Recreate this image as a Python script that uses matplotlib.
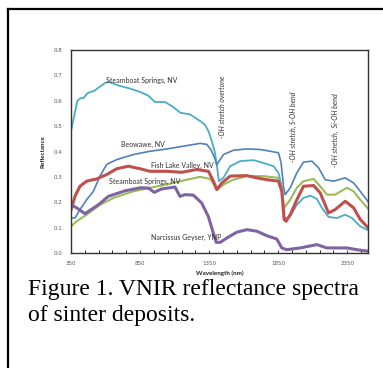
import matplotlib
matplotlib.use('Agg')
import matplotlib.pyplot as plt
from matplotlib.lines import Line2D

# Steamboat Springs, NV (upper, cyan)
wl_ss1 = [350, 396, 420, 440, 470, 520, 596, 620, 693, 765, 850, 910, 958, 1031, 1091, 1140,
          1212, 1285, 1320, 1345, 1367, 1390, 1405, 1420, 1453, 1502, 1574, 1671, 1743, 1816,
          1852, 1876, 1893, 1907, 1937, 1985, 2033, 2082, 2130, 2166, 2214, 2275, 2335, 2383,
          2444, 2500]
r_ss1 = [0.48, 0.60, 0.61, 0.61, 0.63, 0.64, 0.67, 0.675, 0.66, 0.65, 0.635, 0.62, 0.595, 0.595,
         0.575, 0.553, 0.546, 0.52, 0.505, 0.48, 0.445, 0.40, 0.35, 0.283, 0.296, 0.342, 0.362,
         0.366, 0.355, 0.342, 0.316, 0.26, 0.145, 0.134, 0.145, 0.19, 0.217, 0.226, 0.213, 0.178,
         0.142, 0.138, 0.151, 0.138, 0.105, 0.09]

# Beowawe, NV (blue)
wl_beo = [350, 379, 415, 463, 512, 560, 608, 681, 801, 922, 1043, 1164, 1285, 1333, 1362, 1393,
          1405, 1417, 1454, 1526, 1623, 1719, 1792, 1852, 1871, 1888, 1900, 1937, 1985, 2033,
          2094, 2142, 2190, 2250, 2335, 2396, 2444, 2500]
r_beo = [0.138, 0.138, 0.171, 0.21, 0.243, 0.303, 0.349, 0.368, 0.388, 0.401, 0.41, 0.421, 0.432,
         0.428, 0.408, 0.37, 0.346, 0.358, 0.388, 0.405, 0.41, 0.408, 0.401, 0.395, 0.355, 0.263,
         0.23, 0.257, 0.316, 0.358, 0.362, 0.336, 0.289, 0.283, 0.296, 0.276, 0.243, 0.203]

# Fish Lake Valley, NV (red)
wl_flv = [350, 379, 415, 463, 536, 608, 681, 765, 850, 922, 1043, 1152, 1260, 1345, 1381, 1405,
          1442, 1502, 1623, 1695, 1768, 1852, 1876, 1893, 1907, 1937, 1985, 2033, 2106, 2154,
          2214, 2262, 2335, 2396, 2444, 2500]
r_flv = [0.17, 0.224, 0.263, 0.283, 0.292, 0.309, 0.332, 0.342, 0.332, 0.322, 0.322, 0.318, 0.329,
         0.322, 0.283, 0.25, 0.276, 0.303, 0.305, 0.296, 0.289, 0.283, 0.243, 0.132, 0.125, 0.151,
         0.21, 0.263, 0.266, 0.237, 0.158, 0.171, 0.204, 0.178, 0.132, 0.10]

# Steamboat Springs, NV (lower, green)
wl_ss2 = [350, 391, 463, 560, 657, 801, 922, 1043, 1188, 1285, 1357, 1393, 1410, 1454, 1526,
          1623, 1743, 1852, 1876, 1893, 1937, 1985, 2033, 2106, 2154, 2202, 2262, 2348, 2396,
          2444, 2500]
r_ss2 = [0.105, 0.125, 0.151, 0.19, 0.217, 0.243, 0.257, 0.27, 0.289, 0.30, 0.292, 0.263, 0.25,
         0.27, 0.289, 0.303, 0.303, 0.296, 0.25, 0.178, 0.21, 0.257, 0.283, 0.292, 0.263, 0.23,
         0.23, 0.257, 0.243, 0.21, 0.175]

# Narcissus Geyser, YNP (purple)
wl_ng = [350, 391, 451, 548, 620, 741, 850, 910, 953, 1003, 1103, 1139, 1175, 1236, 1296, 1344,
         1380, 1401, 1430, 1478, 1550, 1623, 1695, 1768, 1840, 1876, 1912, 2009, 2130, 2202,
         2348, 2420, 2500]
r_ng = [0.19, 0.178, 0.155, 0.19, 0.223, 0.245, 0.257, 0.256, 0.239, 0.252, 0.26, 0.223, 0.23,
        0.228, 0.197, 0.144, 0.079, 0.042, 0.042, 0.059, 0.082, 0.092, 0.086, 0.068, 0.055, 0.02,
        0.013, 0.02, 0.033, 0.02, 0.02, 0.013, 0.007]

x_ticks = [350, 850, 1350, 1850, 2350]
y_ticks = [0.0, 0.1, 0.2, 0.3, 0.4, 0.5, 0.6, 0.7, 0.8]

fig = plt.figure(figsize=(3.83, 3.68), dpi=100)
ax = fig.add_axes([71 / 383, 1 - 253 / 368, 297 / 383, 203 / 368])

ax.plot(wl_ss1, r_ss1, color='#4bacc6', lw=1.3)
ax.plot(wl_beo, r_beo, color='#4f81bd', lw=1.2)
ax.plot(wl_ss2, r_ss2, color='#9bbb59', lw=1.5)
ax.plot(wl_flv, r_flv, color='#c0504d', lw=2.2)
ax.plot(wl_ng, r_ng, color='#8064a2', lw=2.2)

ax.set_xlim(350, 2500)
ax.set_ylim(0, 0.8)
ax.set_xticks(x_ticks)
ax.set_xticks(range(350, 2500, 100), minor=True)
ax.set_yticks(y_ticks)
ax.set_yticklabels(['%.1f' % v for v in y_ticks])
ax.tick_params(axis='both', labelsize=4, colors='#444444', length=0, pad=6, labelcolor='#555555')
ax.tick_params(axis='x', which='both', direction='in', length=2, pad=6)
for s in ax.spines.values():
    s.set_color('#333333')
    s.set_linewidth(1.0)

lab = dict(fontsize=4.5, fontweight='bold', color='#222222', family='Lato')
ax.set_xlabel('Wavelength (nm)', labelpad=3, **lab)
ax.set_ylabel('Reflectance', labelpad=6, **lab)

txt = dict(fontsize=5, color='#333333', family='Lato', va='center', ha='left')
ax.text(603, 0.681, 'Steamboat Springs, NV', **txt)
ax.text(710, 0.428, 'Beowawe, NV', **txt)
ax.text(929, 0.346, 'Fish Lake Valley, NV', **txt)
ax.text(627, 0.281, 'Steamboat Springs, NV', **txt)
ax.text(927, 0.062, 'Narcissus Geyser, YNP', **txt)

rot = dict(fontsize=5, color='#333333', family='Lato', style='italic',
           rotation=90, va='top', ha='center')
ax.text(1448, 0.70, '-OH stretch overtone', **rot)
ax.text(1960, 0.635, '-OH stretch, S-OH bend', **rot)
ax.text(2261, 0.63, '-OH stretch,  Si-OH bend', **rot)

fig.text(28 / 383, 1 - 290 / 368, 'Figure 1. VNIR reflectance spectra',
         family='Liberation Serif', fontsize=17, va='center', ha='left')
fig.text(28 / 383, 1 - 315 / 368, 'of sinter deposits.',
         family='Liberation Serif', fontsize=17, va='center', ha='left')

# outer frame (runs off the right and bottom edges)
fig.add_artist(Line2D([7.5 / 383, 7.5 / 383], [0, 1 - 8.5 / 368], color='black', lw=1.6))
fig.add_artist(Line2D([7.5 / 383, 1], [1 - 8.5 / 368, 1 - 8.5 / 368], color='black', lw=1.6))

fig.savefig('out.png', dpi=100)
